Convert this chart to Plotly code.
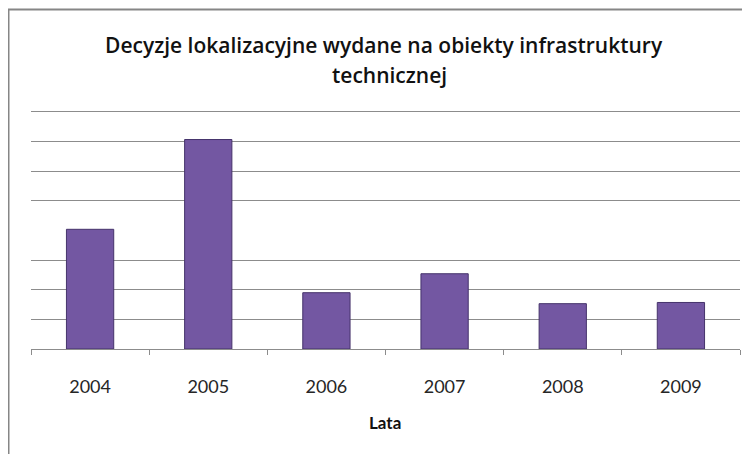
import plotly.graph_objects as go

years = ["2004", "2005", "2006", "2007", "2008", "2009"]
values = [40.4, 70.7, 19.0, 25.4, 15.3, 15.7]
grid_vals = [10, 20, 30, 50, 60, 70, 80]
title_lines = ["Decyzje lokalizacyjne wydane na obiekty infrastruktury", "technicznej"]
x_title = "Lata"

# page body has an 8px default margin; work in reference pixels and offset
OFF = 8
W, H = 750 - OFF, 454 - OFF
L, R = 31 - OFF, 740 - OFF
T, B = 108.7 - OFF, 349.3 - OFF
pw, ph = R - L, B - T

def px_x(x):
    return (x - OFF - L) / pw

def px_y(y):
    return (B - (y - OFF)) / ph

fig = go.Figure()
fig.add_trace(go.Bar(
    x=years, y=values,
    marker=dict(color="#7357a2", line=dict(color="#45336b", width=1)),
    width=0.4,
))

fig.update_layout(
    width=W, height=H,
    margin=dict(l=L, r=W - R, t=T, b=H - B, pad=0),
    paper_bgcolor="white", plot_bgcolor="white",
    showlegend=False,
    font=dict(family="Lato, Liberation Sans, sans-serif", color="#222"),
    xaxis=dict(
        type="category", tickson="boundaries",
        showline=True, linecolor="#8c8c8c", linewidth=1,
        ticks="outside", ticklen=5, tickcolor="#8c8c8c", tickwidth=1,
        showgrid=False, ticklabelstandoff=21,
        tickfont=dict(size=18, color="#262626", family="Lato, Liberation Sans, sans-serif"),
    ),
    yaxis=dict(
        range=[0, 81], tickvals=grid_vals, showticklabels=False,
        showgrid=True, gridcolor="#8c8c8c", gridwidth=1,
        zeroline=False, showline=False, ticks="",
    ),
    shapes=[dict(
        type="rect", xref="paper", yref="paper",
        x0=px_x(8.5), x1=px_x(800), y0=px_y(500), y1=px_y(9),
        line=dict(color="#868686", width=2), fillcolor="rgba(0,0,0,0)", layer="below",
    )],
    annotations=[
        dict(text=title_lines[0], xref="paper", yref="paper", x=px_x(384), y=px_y(44.5),
             showarrow=False, xanchor="center", yanchor="middle",
             font=dict(size=21, color="#111", weight=600, family="Open Sans, Liberation Sans, sans-serif")),
        dict(text=title_lines[1], xref="paper", yref="paper", x=px_x(389), y=px_y(75),
             showarrow=False, xanchor="center", yanchor="middle",
             font=dict(size=21, color="#111", weight=600, family="Open Sans, Liberation Sans, sans-serif")),
        dict(text="<b>" + x_title + "</b>", xref="paper", yref="paper", x=px_x(385), y=px_y(423),
             showarrow=False, xanchor="center", yanchor="middle",
             font=dict(size=17, color="#111", family="Lato, Liberation Sans, sans-serif")),
    ],
)

fig.write_html("out.html")
